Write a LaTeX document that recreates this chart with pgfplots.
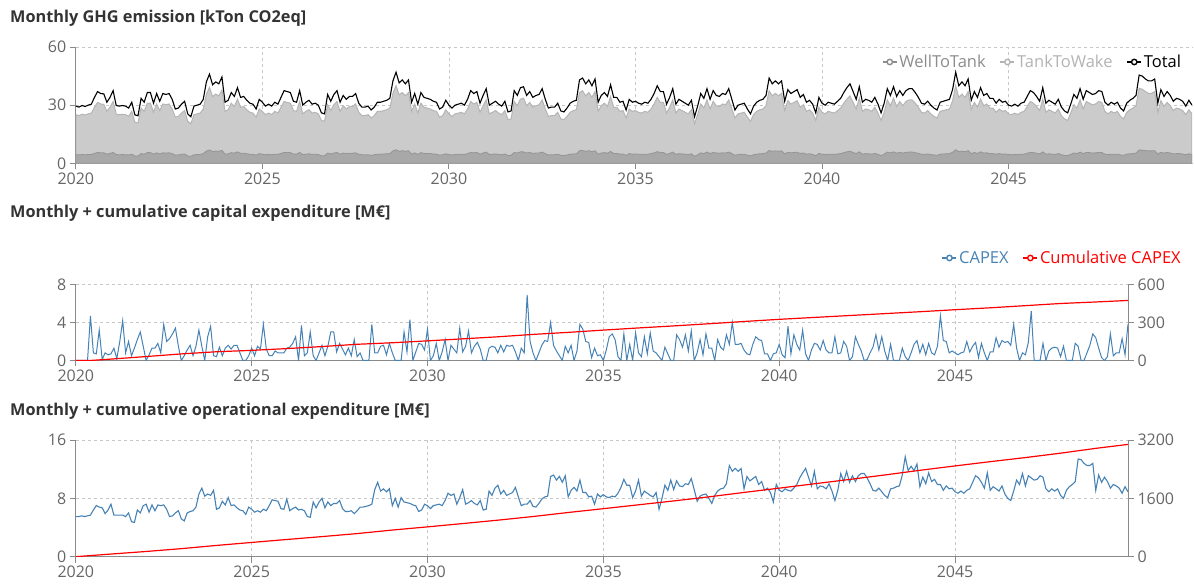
\documentclass[border=0pt]{standalone}
\usepackage{fontspec}
\setmainfont{Open Sans}
\usepackage{pgfplots}
\usepackage{pgfplotstable}
\pgfplotsset{compat=1.18}

\definecolor{steel}{HTML}{4682B4}
\definecolor{lgarea}{HTML}{CBCBCB}
\definecolor{dgarea}{HTML}{A8A8A8}
\definecolor{ttwline}{HTML}{B5B5B5}
\definecolor{wttline}{HTML}{959595}
\definecolor{axgray}{HTML}{8A8A8A}
\definecolor{labgray}{HTML}{666666}
\definecolor{titlegray}{HTML}{333333}
\definecolor{wttleg}{HTML}{8C8C8C}
\definecolor{ttwleg}{HTML}{B3B3B3}

\pgfplotstableread{
tot ttw wtt opex capex
29.5 25.1 4.4 5.5 0
29.0 24.6 4.4 5.5 0
29.8 25.3 4.5 5.6 0
29.3 24.9 4.4 5.5 0
30.0 25.5 4.5 5.6 0
30.5 25.9 4.6 5.7 4.7
34.0 28.9 5.1 6.4 0.8
37.0 31.4 5.6 7.0 0.7
36.0 30.6 5.4 6.8 3.2
35.8 30.4 5.4 6.7 0.1
31.5 26.8 4.7 5.9 0.8
34.0 28.9 5.1 6.4 0.6
37.5 31.9 5.6 7.2 0.7
29.8 25.3 4.5 5.7 1.3
29.5 25.1 4.4 5.7 0.2
29.8 25.3 4.5 5.7 2.0
29.5 25.1 4.4 5.7 4.2
28.5 24.2 4.3 5.5 0.8
31.5 26.8 4.7 6.0 2.0
25.0 21.2 3.8 4.8 0.5
24.5 20.8 3.7 4.7 1.3
33.5 28.5 5.0 6.4 2.2
31.5 26.8 4.7 6.0 3.0
36.5 31.0 5.5 7.0 1.5
36.5 31.0 5.5 7.2 0
31.0 26.3 4.7 6.1 0.6
36.0 30.6 5.4 7.1 1.3
32.0 27.2 4.8 6.3 1.3
36.0 30.6 5.4 7.1 1.8
35.5 30.2 5.3 7.0 0.8
36.0 30.6 5.4 7.1 3.8
33.0 28.0 5.0 6.5 2.0
28.0 23.8 4.2 5.5 2.3
28.5 24.2 4.3 5.6 2.8
30.5 25.9 4.6 6.0 3.4
32.0 27.2 4.8 6.3 1.5
25.5 21.7 3.8 5.2 0
24.0 20.4 3.6 4.9 0.5
29.5 25.1 4.4 6.0 1.1
30.0 25.5 4.5 6.2 1.6
30.5 25.9 4.6 6.3 0.5
33.0 28.0 5.0 6.8 1.5
42.0 35.7 6.3 8.6 3.2
46.0 39.1 6.9 9.4 1.5
40.5 34.4 6.1 8.3 0
42.0 35.7 6.3 8.6 2.5
41.0 34.8 6.2 8.4 3.6
44.5 37.8 6.7 9.1 0.5
31.5 26.8 4.7 6.5 0.4
32.5 27.6 4.9 6.7 1.4
36.5 31.0 5.5 7.6 0.5
34.5 29.3 5.2 7.1 1.3
39.0 33.1 5.9 8.1 1.6
34.0 28.9 5.1 7.0 1.2
34.5 29.3 5.2 7.1 1.6
32.5 27.6 4.9 6.7 1.6
31.0 26.3 4.7 6.4 0.8
30.5 25.9 4.6 6.3 0
28.0 23.8 4.2 5.8 0
33.0 28.0 5.0 6.8 0.5
31.5 26.8 4.7 6.5 1.3
29.5 25.1 4.4 6.1 0.5
30.5 25.9 4.6 6.3 1.5
29.5 25.1 4.4 6.1 1.2
31.5 26.8 4.7 6.5 3.8
30.5 25.9 4.6 6.3 1.2
34.0 28.9 5.1 7.0 0.5
37.5 31.9 5.6 7.8 0.5
37.0 31.4 5.6 7.7 1.0
36.5 31.0 5.5 7.6 0.8
32.0 27.2 4.8 6.6 0.8
31.5 26.8 4.7 6.5 0.8
37.5 31.9 5.6 7.9 1.3
30.0 25.5 4.5 6.3 1.4
31.5 26.8 4.7 6.6 1.8
32.5 27.6 4.9 6.8 2.5
30.5 25.9 4.6 6.4 0
31.0 26.3 4.7 6.5 3.7
30.0 25.5 4.5 6.3 0.5
26.0 22.1 3.9 5.5 0.8
25.5 21.7 3.8 5.4 3.0
35.5 30.2 5.3 7.5 0.5
32.0 27.2 4.8 6.7 0
35.5 30.2 5.3 7.5 0.8
37.5 31.9 5.6 8.0 1.6
31.5 26.8 4.7 6.7 0.5
35.0 29.7 5.3 7.5 1.5
33.0 28.0 5.0 7.0 3.0
34.5 29.3 5.2 7.3 3.0
34.5 29.3 5.2 7.3 0.9
36.0 30.6 5.4 7.7 1.8
31.0 26.3 4.7 6.6 1.2
29.0 24.6 4.4 6.2 0.6
29.0 24.6 4.4 6.2 1.3
29.5 25.1 4.4 6.3 0.5
27.5 23.4 4.1 5.9 2.2
29.0 24.6 4.4 6.3 0.4
31.5 26.8 4.7 6.8 0.8
31.5 26.8 4.7 6.8 0
32.0 27.2 4.8 6.9 0
32.5 27.6 4.9 7.0 0
33.5 28.5 5.0 7.2 3.8
42.5 36.1 6.4 9.2 0.8
47.0 40.0 7.0 10.2 0.8
41.5 35.3 6.2 9.0 1.5
43.0 36.5 6.5 9.3 1.6
41.0 34.8 6.2 8.9 0.6
43.0 36.5 6.5 9.3 1.8
31.5 26.8 4.7 7.0 0.8
36.0 30.6 5.4 8.0 0
30.5 25.9 4.6 6.8 0
36.5 31.0 5.5 8.1 0
34.0 28.9 5.1 7.5 3.0
33.5 28.5 5.0 7.4 0.9
33.0 28.0 5.0 7.3 4.3
32.0 27.2 4.8 7.1 0
31.5 26.8 4.7 7.0 0.9
28.0 23.8 4.2 6.2 1.8
29.0 24.6 4.4 6.4 1.7
32.5 27.6 4.9 7.2 1.1
30.0 25.5 4.5 7.0 3.3
28.5 24.2 4.3 6.6 0
30.0 25.5 4.5 7.0 0.5
30.5 25.9 4.6 7.1 1.8
31.0 26.3 4.7 7.2 0
30.0 25.5 4.5 7.0 0.9
33.0 28.0 5.0 7.7 2.2
37.5 31.9 5.6 8.7 0
36.0 30.6 5.4 8.4 1.6
37.0 31.4 5.6 8.6 1.2
31.0 26.3 4.7 7.2 0.8
35.0 29.7 5.3 8.1 3.4
38.5 32.7 5.8 9.2 0.9
30.0 25.5 4.5 7.2 1.5
31.0 26.3 4.7 7.4 3.1
32.0 27.2 4.8 7.7 0.8
30.5 25.9 4.6 7.3 1.5
29.5 25.1 4.4 7.1 1.9
32.0 27.2 4.8 7.7 1.2
26.5 22.5 4.0 6.4 0
27.0 22.9 4.1 6.5 0
37.5 31.9 5.6 9.0 1.3
35.0 29.7 5.3 8.4 1.5
39.0 33.1 5.9 9.4 1.4
39.5 33.6 5.9 9.8 0.8
35.0 29.7 5.3 8.6 1.6
37.0 31.4 5.6 9.1 0.9
34.0 28.9 5.1 8.4 1.6
35.0 29.7 5.3 8.6 1.5
35.5 30.2 5.3 8.8 1.6
38.5 32.7 5.8 9.5 0.9
33.0 28.0 5.0 8.2 0
28.5 24.2 4.3 7.0 1.3
29.0 24.6 4.4 7.2 0.8
29.0 24.6 4.4 7.2 6.9
31.0 26.3 4.7 7.7 2.0
27.0 22.9 4.1 6.9 0.8
26.5 22.5 4.0 6.8 0
28.5 24.2 4.3 7.3 0.8
31.0 26.3 4.7 7.9 1.6
32.0 27.2 4.8 8.2 2.1
32.5 27.6 4.9 8.3 2.0
43.0 36.5 6.5 11.0 4.0
44.0 37.4 6.6 11.2 1.6
41.0 34.8 6.2 10.5 1.0
43.0 36.5 6.5 11.0 0.5
40.0 34.0 6.0 10.2 0
43.5 37.0 6.5 11.1 1.5
31.5 26.8 4.7 8.2 0.8
35.0 29.7 5.3 9.1 1.6
36.5 31.0 5.5 9.5 0
34.5 29.3 5.2 9.0 1.0
40.5 34.4 6.1 10.5 3.8
34.0 28.9 5.1 8.8 3.3
34.0 28.9 5.1 8.8 2.0
31.5 26.8 4.7 8.2 1.9
32.0 27.2 4.8 8.3 0.3
27.5 23.4 4.1 7.2 1.3
33.0 28.0 5.0 8.6 0.5
31.5 26.8 4.7 8.2 0.6
32.0 27.2 4.8 8.5 0
31.0 26.3 4.7 8.2 1.1
30.5 25.9 4.6 8.1 2.5
31.5 26.8 4.7 8.3 2.8
31.0 26.3 4.7 8.2 2.2
33.0 28.0 5.0 8.7 0.4
36.0 30.6 5.4 9.5 0
40.0 34.0 6.0 10.6 2.8
37.0 31.4 5.6 9.8 0
37.0 31.4 5.6 9.8 1.7
30.5 25.9 4.6 8.1 0
34.0 28.9 5.1 9.0 2.9
38.5 32.7 5.8 10.5 0.8
30.5 25.9 4.6 8.3 0.4
33.0 28.0 5.0 9.0 2.5
32.0 27.2 4.8 8.7 0.7
31.0 26.3 4.7 8.4 2.9
30.0 25.5 4.5 8.2 1.0
32.5 27.6 4.9 8.8 0.8
24.0 20.4 3.6 6.5 0.4
29.5 25.1 4.4 8.0 0
36.0 30.6 5.4 9.8 1.4
33.5 28.5 5.0 9.1 0.7
38.5 32.7 5.8 10.5 0
33.0 28.0 5.0 9.2 0
37.5 31.9 5.6 10.4 2.7
35.0 29.7 5.3 9.7 2.2
34.5 29.3 5.2 9.6 1.4
36.0 30.6 5.4 10.0 2.7
35.5 30.2 5.3 9.9 1.0
38.5 32.7 5.8 10.7 3.1
33.0 28.0 5.0 9.2 0
27.5 23.4 4.1 7.6 0.8
30.0 25.5 4.5 8.3 2.2
30.5 25.9 4.6 8.5 0.6
31.0 26.3 4.7 8.6 2.8
28.0 23.8 4.2 8.0 1.3
25.5 21.7 3.8 7.3 1.3
29.5 25.1 4.4 8.4 0
31.5 26.8 4.7 9.0 2.2
32.5 27.6 4.9 9.3 1.4
33.0 28.0 5.0 9.4 1.1
35.0 29.7 5.3 10.0 2.7
44.0 37.4 6.6 12.5 1.7
41.0 34.8 6.2 11.7 4.0
42.5 36.1 6.4 12.1 1.7
41.0 34.8 6.2 11.7 1.7
42.5 36.1 6.4 12.1 1.8
32.0 27.2 4.8 9.3 1.1
38.0 32.3 5.7 11.0 0.7
36.0 30.6 5.4 10.4 0.6
37.0 31.4 5.6 10.7 1.7
38.0 32.3 5.7 11.0 2.5
34.0 28.9 5.1 9.9 2.2
35.5 30.2 5.3 10.3 2.1
31.5 26.8 4.7 9.1 0.7
32.5 27.6 4.9 9.4 0.7
30.5 25.9 4.6 8.8 0
26.0 22.1 3.9 7.5 0.7
34.0 28.9 5.1 9.9 0.8
31.0 26.3 4.7 9.1 1.7
30.0 25.5 4.5 8.9 0.6
31.5 26.8 4.7 9.3 0.3
31.0 26.3 4.7 9.1 3.6
30.5 25.9 4.6 9.0 0.7
32.0 27.2 4.8 9.4 2.7
33.5 28.5 5.0 9.9 1.7
36.5 31.0 5.5 10.8 1.1
39.0 33.1 5.9 11.5 3.2
41.0 34.8 6.2 12.1 0.7
37.0 31.4 5.6 10.9 0
33.0 28.0 5.0 9.7 1.1
39.5 33.6 5.9 11.7 1.8
31.5 26.8 4.7 9.3 1.7
33.0 28.0 5.0 9.7 1.1
32.5 27.6 4.9 9.6 2.1
31.5 26.8 4.7 9.3 1.1
34.0 28.9 5.1 10.0 0.8
30.5 25.9 4.6 9.0 0.8
26.0 22.1 3.9 7.7 2.5
31.0 26.3 4.7 9.1 0.7
38.5 32.7 5.8 11.4 0.8
35.0 29.7 5.3 10.3 2.0
39.5 33.6 5.9 11.7 1.5
34.5 29.3 5.2 10.2 0
37.5 31.9 5.6 11.1 0.4
35.0 29.7 5.3 10.3 2.5
37.5 31.9 5.6 11.1 1.7
38.5 32.7 5.8 11.4 1.0
38.5 32.7 5.8 11.4 0
36.5 31.0 5.5 10.8 0.1
34.0 28.9 5.1 10.0 0.8
31.0 26.3 4.7 9.1 1.4
30.5 25.9 4.6 9.0 2.7
32.0 27.2 4.8 9.4 1.1
30.0 25.5 4.5 8.9 2.5
28.5 24.2 4.3 8.4 1.0
27.5 23.4 4.1 8.1 0
31.5 26.8 4.7 9.3 1.7
32.0 27.2 4.8 9.4 0
32.5 27.6 4.9 9.6 0
33.0 28.0 5.0 9.7 0
38.0 32.3 5.7 11.2 1.3
47.0 40.0 7.0 13.7 0.4
40.0 34.0 6.0 11.8 0
42.0 35.7 6.3 12.4 0.8
40.0 34.0 6.0 11.8 1.7
43.5 37.0 6.5 12.7 2.1
32.5 27.6 4.9 9.6 0.8
37.0 31.4 5.6 10.9 1.7
34.0 28.9 5.1 10.0 0.6
39.0 33.1 5.9 11.5 1.8
35.0 29.7 5.3 10.3 0.8
36.0 30.6 5.4 10.6 0.6
33.5 28.5 5.0 9.9 1.5
33.5 28.5 5.0 9.9 4.7
31.0 26.3 4.7 9.1 2.1
33.0 28.0 5.0 9.7 2.0
31.5 26.8 4.7 9.3 0.8
32.0 27.2 4.8 9.4 1.0
30.0 25.5 4.5 8.9 0.8
29.5 25.1 4.4 8.7 0.6
30.5 25.9 4.6 9.0 0.8
29.5 25.1 4.4 8.7 0.9
31.0 26.3 4.7 9.1 2.0
31.5 26.8 4.7 9.3 0.9
34.5 29.3 5.2 10.2 1.5
37.5 31.9 5.6 11.1 1.9
36.5 31.0 5.5 10.8 0.3
34.5 29.3 5.2 10.2 1.8
32.0 27.2 4.8 9.4 0.8
39.0 33.1 5.9 11.5 0
31.0 26.3 4.7 9.1 0.9
32.5 27.6 4.9 9.6 0.9
31.5 26.8 4.7 9.3 2.4
30.5 25.9 4.6 9.0 1.4
33.0 28.0 5.0 9.7 2.1
29.0 24.6 4.4 8.6 1.9
27.0 22.9 4.1 8.0 2.0
26.0 22.1 3.9 7.7 1.6
30.5 25.9 4.6 9.0 3.8
35.5 30.2 5.3 10.5 1.3
33.5 28.5 5.0 9.9 0
38.5 32.7 5.8 11.4 0.8
33.0 28.0 5.0 9.7 0.6
37.5 31.9 5.6 11.1 1.9
36.5 31.0 5.5 10.8 5.2
35.5 30.2 5.3 10.5 0
36.0 30.6 5.4 10.6 0
37.5 31.9 5.6 11.1 0
37.0 31.4 5.6 10.9 1.8
31.5 26.8 4.7 9.3 0
30.0 25.5 4.5 8.9 1.0
31.5 26.8 4.7 9.3 1.3
30.5 25.9 4.6 9.0 1.4
31.5 26.8 4.7 9.3 1.3
28.5 24.2 4.3 8.4 0.4
27.0 22.9 4.1 8.0 1.5
31.0 26.3 4.7 9.1 0
32.5 27.6 4.9 9.6 0
33.5 28.5 5.0 9.9 0
35.0 29.7 5.3 10.3 1.8
45.5 38.7 6.8 13.4 1.5
45.0 38.2 6.8 13.3 0
43.5 37.0 6.5 12.8 0
42.5 36.1 6.4 12.5 0.8
42.5 36.1 6.4 12.5 1.6
43.5 37.0 6.5 12.8 2.8
31.0 26.3 4.7 9.1 2.4
38.0 32.3 5.7 11.2 1.3
34.5 29.3 5.2 10.2 0.3
37.0 31.4 5.6 10.9 0
35.0 29.7 5.3 10.3 0.4
32.0 27.2 4.8 9.4 2.8
33.5 28.5 5.0 9.9 0.5
33.0 28.0 5.0 9.7 0.8
32.0 27.2 4.8 9.4 0.8
29.5 25.1 4.4 8.7 2.3
32.5 27.6 4.9 9.6 0.6
30.0 25.5 4.5 8.9 3.8
}\mon

\pgfplotstableread{
yr cum
2020 0
2020.4 0
2021 11
2022 31
2023 52
2024 69
2025 80
2026 94
2027 110
2028 128
2029 140
2030 155
2031 171
2032 187
2033 206
2034 222
2035 240
2036 257
2037 273
2038 290
2039 308
2040 325
2041 340
2042 355
2043 370
2044 385
2045 401
2046 416
2047 433
2048 450
2049 462
2049.917 474
}\cumcap

\pgfplotstableread{
yr cum
2020 0
2021 72.6
2022 143.0
2023 220.8
2024 308.6
2025 390.7
2026 471.7
2027 551.1
2028 633.8
2029 730.7
2030 817.7
2031 908.3
2032 1001.6
2033 1101.7
2034 1212.1
2035 1316.5
2036 1423.3
2037 1529.1
2038 1640.8
2039 1762.3
2040 1879.6
2041 1999.3
2042 2118.1
2043 2240.8
2044 2368.9
2045 2489.1
2046 2606.0
2047 2717.8
2048 2838.3
2049 2970.9
2049.917 3079
}\cumopex

\pgfplotsset{
  /pgf/number format/1000 sep={},
  commonleg/.style={
    legend style={draw=none, fill=none, inner sep=0pt, outer sep=0pt,
      font=\fontsize{16.5}{17}\selectfont, legend columns=-1,
      nodes={inner sep=2pt},
      /tikz/every even column/.append style={column sep=12pt}},
    legend image code/.code={
      \draw[##1, line width=1.4pt] (0pt,0pt) -- (14pt,0pt);
      \draw[##1, line width=1.4pt, fill=white] (7pt,0pt) circle (2.7pt);
    },
  },
  base/.style={
    scale only axis,
    xmin=2020, xmax=2049.917,
    axis x line*=bottom, axis y line*=left,
    axis line style={axgray, line width=0.9pt},
    xtick={2020,2025,...,2045},
    tick align=outside, major tick length=6pt,
    tick style={axgray, line width=0.9pt},
    grid=major, grid style={dashed, black!22, line width=0.7pt},
    tick label style={font=\fontsize{16}{16}\selectfont, text=labgray},
    /pgf/number format/assume math mode=true,
    commonleg,
  },
  rightax/.style={
    scale only axis,
    xmin=2020, xmax=2049.917,
    axis y line*=right, axis x line=none,
    axis line style={axgray, line width=0.9pt},
    tick align=outside, major tick length=6pt,
    tick style={axgray, line width=0.9pt},
    tick label style={font=\fontsize{16}{16}\selectfont, text=labgray},
    /pgf/number format/assume math mode=true,
    commonleg,
  },
}

\begin{document}
\begin{tikzpicture}
\useasboundingbox (0pt,0pt) rectangle (1194pt,588pt);

\node[anchor=base west, inner sep=0pt, text=titlegray, font=\bfseries\fontsize{16.3}{19}\selectfont] at (10pt,565pt) {Monthly GHG emission [kTon CO2eq]};
\node[anchor=base west, inner sep=0pt, text=titlegray, font=\bfseries\fontsize{16.3}{19}\selectfont] at (10pt,370pt) {Monthly + cumulative capital expenditure [M€]};
\node[anchor=base west, inner sep=0pt, text=titlegray, font=\bfseries\fontsize{16.3}{19}\selectfont] at (10pt,172pt) {Monthly + cumulative operational expenditure [M€]};

% Panel 1
\begin{axis}[base, at={(75.8pt,424.7pt)}, anchor=south west,
  width=1116.2pt, height=116.3pt, ymin=0, ymax=60, ytick={0,30,60},
  legend style={at={(0.992,0.871)}, anchor=east}]
\addplot[fill=lgarea, draw=ttwline, line width=1pt, forget plot]
  table[x expr={2020+\coordindex/12}, y=ttw]{\mon} \closedcycle;
\addplot[fill=dgarea, draw=wttline, line width=0.8pt, forget plot]
  table[x expr={2020+\coordindex/12}, y=wtt]{\mon} \closedcycle;
\addplot[black, line width=1.1pt, forget plot]
  table[x expr={2020+\coordindex/12}, y=tot]{\mon};
\addlegendimage{wttleg}
\addlegendentry{\textcolor{wttleg}{WellToTank}}
\addlegendimage{ttwleg}
\addlegendentry{\textcolor{ttwleg}{TankToWake}}
\addlegendimage{black}
\addlegendentry{\textcolor{black}{Total}}
\end{axis}

% Panel 2
\begin{axis}[base, at={(75.8pt,227.5pt)}, anchor=south west,
  width=1052.2pt, height=76pt, ymin=0, ymax=8, ytick={0,4,8}]
\addplot[steel, line width=1pt]
  table[x expr={2020+\coordindex/12}, y=capex]{\mon};
\end{axis}
\begin{axis}[rightax, at={(75.8pt,227.5pt)}, anchor=south west,
  width=1052.2pt, height=76pt, ymin=0, ymax=600, ytick={0,300,600},
  legend style={at={(1.052,1.349)}, anchor=east}]
\addlegendimage{steel}
\addlegendentry{\textcolor{steel}{CAPEX}}
\addplot[red, line width=1.2pt] table[x=yr, y=cum]{\cumcap};
\addlegendentry{\textcolor{red}{Cumulative CAPEX}}
\end{axis}

% Panel 3
\begin{axis}[base, at={(75.8pt,31.3pt)}, anchor=south west,
  width=1052.2pt, height=116.7pt, ymin=0, ymax=16, ytick={0,8,16}]
\addplot[steel, line width=1.1pt]
  table[x expr={2020+\coordindex/12}, y=opex]{\mon};
\end{axis}
\begin{axis}[rightax, at={(75.8pt,31.3pt)}, anchor=south west,
  width=1052.2pt, height=116.7pt, ymin=0, ymax=3200, ytick={0,1600,3200}]
\addplot[red, line width=1.2pt] table[x=yr, y=cum]{\cumopex};
\end{axis}
\end{tikzpicture}
\end{document}
